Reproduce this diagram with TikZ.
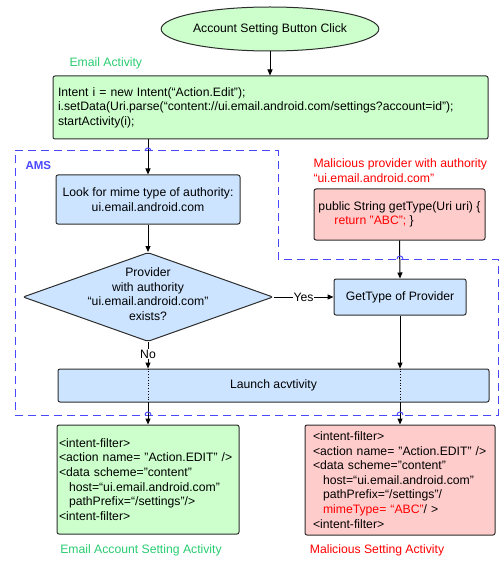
\documentclass[tikz,border=0pt]{standalone}
\usepackage{fontspec}
\setmainfont{Liberation Sans}
\usetikzlibrary{
    arrows.meta,
    shapes.geometric, % ellipse and diamond
    positioning
}

\definecolor{boxgreen}{RGB}{204,255,204}
\definecolor{boxred}{RGB}{255,204,204}
\definecolor{boxblue}{RGB}{204,228,255}
\definecolor{labelgreen}{RGB}{40,204,112}
\definecolor{amsblue}{RGB}{72,72,255}
\definecolor{edgegray}{RGB}{45,45,45}

\begin{document}
\begin{tikzpicture}[
    x=1pt, y=-1pt,
    font=\fontsize{12.2}{14.6}\selectfont,
    flowbox/.style = {rectangle, draw=edgegray, line width=1pt,
                      rounded corners=2pt, inner sep=0pt},
    greenbox/.style = {flowbox, fill=boxgreen},
    redbox/.style = {flowbox, fill=boxred},
    bluebox/.style = {flowbox, fill=boxblue},
    flowarrow/.style = {draw=black, line width=1pt,
                        -{Triangle[length=6pt,width=5pt]}},
    amsline/.style = {draw=amsblue, line width=1pt, dash pattern=on 8pt off 5pt}
]
    \useasboundingbox (0,0) rectangle (500,561);

    % AMS frame
    \draw[amsline] (15,151) -- (278,151) -- (278,259) -- (498,259)
        -- (498,415) -- (15,415) -- cycle;
    \node[text=amsblue, font=\fontsize{11.5}{13}\selectfont\bfseries, anchor=west] (amslabel) at (22,166) {AMS};

    \node[greenbox, shape=ellipse, minimum width=184pt, minimum height=44pt] (start) at (270,29) {Account Setting Button Click};

    \node[text=labelgreen, anchor=west] (emaillabel) at (66,63) {Email Activity};
    \node[greenbox, minimum width=435pt, minimum height=63pt, text width=425pt,
          align=left, inner xsep=5pt] (emailact) at (270.5,107.5)
        {Intent i = new Intent(“Action.Edit”);\\
         i.setData(Uri.parse(“content://ui.email.android.com/settings?account=id”);\\
         startActivity(i);};

    \node[bluebox, minimum width=184pt, minimum height=49pt, align=center] (lookup) at (148,199.5)
        {Look for mime type of authority:\\ui.email.android.com};

    % the question text is wider than the diamond, so it sits in a node of its own
    \node[flowbox, shape=diamond, fill=boxblue, minimum width=250pt, minimum height=89pt] (provcheck) at (148,297) {};
    \node[align=center] (provtext) at (148,294)
        {Provider\\with authority\\“ui.email.android.com"\\exists?};

    \node[text=red, align=left, anchor=west] (mallabel) at (310,170.5)
        {Malicious provider with authority\\“ui.email.android.com"};
    \node[redbox, minimum width=171pt, minimum height=51pt, align=left] (malprov) at (399.5,214.5)
        {public String getType(Uri uri) \{\\
         \hspace*{16pt}\textcolor{red}{return "ABC";} \}};

    \node[bluebox, minimum width=132pt, minimum height=36pt] (gettype) at (400,297) {GetType of Provider};

    \node[bluebox, minimum width=431pt, minimum height=33pt] (launch) at (273.5,385.5) {Launch acvtivity};

    \node[greenbox, minimum width=182pt, minimum height=109pt, text width=178pt,
          align=left, inner xsep=2pt] (emailset) at (148,479.5)
        {<intent-filter>\\
         <action name= "Action.EDIT" />\\
         <data scheme="content"\\
         \hspace*{10pt}host=“ui.email.android.com"\\
         \hspace*{10pt}pathPrefix=“/settings"/>\\
         <intent-filter>};
    \node[redbox, minimum width=184pt, minimum height=110pt, text width=174pt,
          align=left, inner xsep=8pt] (malset) at (400,480)
        {<intent-filter>\\
         <action name= "Action.EDIT" />\\
         <data scheme="content"\\
         \hspace*{10pt}host=“ui.email.android.com"\\
         \hspace*{10pt}pathPrefix=“/settings"/\\
         \hspace*{10pt}\textcolor{red}{mimeType= “ABC"}/ >\\
         <intent-filter>};

    \node[text=labelgreen] (emailsetlabel) at (141,550) {Email Account Setting Activity};
    \node[text=red] (malsetlabel) at (377,550) {Malicious Setting Activity};

    % connectors
    \draw[flowarrow] (start.south) -- (start.south |- emailact.north);
    \draw[flowarrow] (lookup.north |- emailact.south) -- (lookup.north);
    \draw[flowarrow] (lookup.south) -- (provcheck.north);
    \draw[flowarrow] (provcheck.east) -- node[fill=white, inner sep=1pt] {Yes} (gettype.west);
    \draw[flowarrow] (malprov.south) -- (gettype.north);
    \draw[flowarrow] (gettype.south) -- (gettype.south |- launch.north);
    \draw[flowarrow] (provcheck.south) -- node[fill=white, inner sep=1pt, pos=0.45] {No} (provcheck.south |- launch.north);
    \draw[dotted, line width=0.8pt] (provcheck.south |- launch.north) -- (provcheck.south |- launch.south);
    \draw[dotted, line width=0.8pt] (gettype.south |- launch.north) -- (gettype.south |- launch.south);
    \draw[flowarrow] (emailset.north |- launch.south) -- (emailset.north);
    \draw[flowarrow] (malset.north |- launch.south) -- (malset.north);

    % line hops on the AMS frame
    \foreach \hx/\hy in {148/151, 400/259, 148/415, 400/415}
        \draw[amsblue, line width=1pt] (\hx-3,\hy) .. controls (\hx-3,\hy-4) and (\hx+3,\hy-4) .. (\hx+3,\hy);
\end{tikzpicture}
\end{document}
